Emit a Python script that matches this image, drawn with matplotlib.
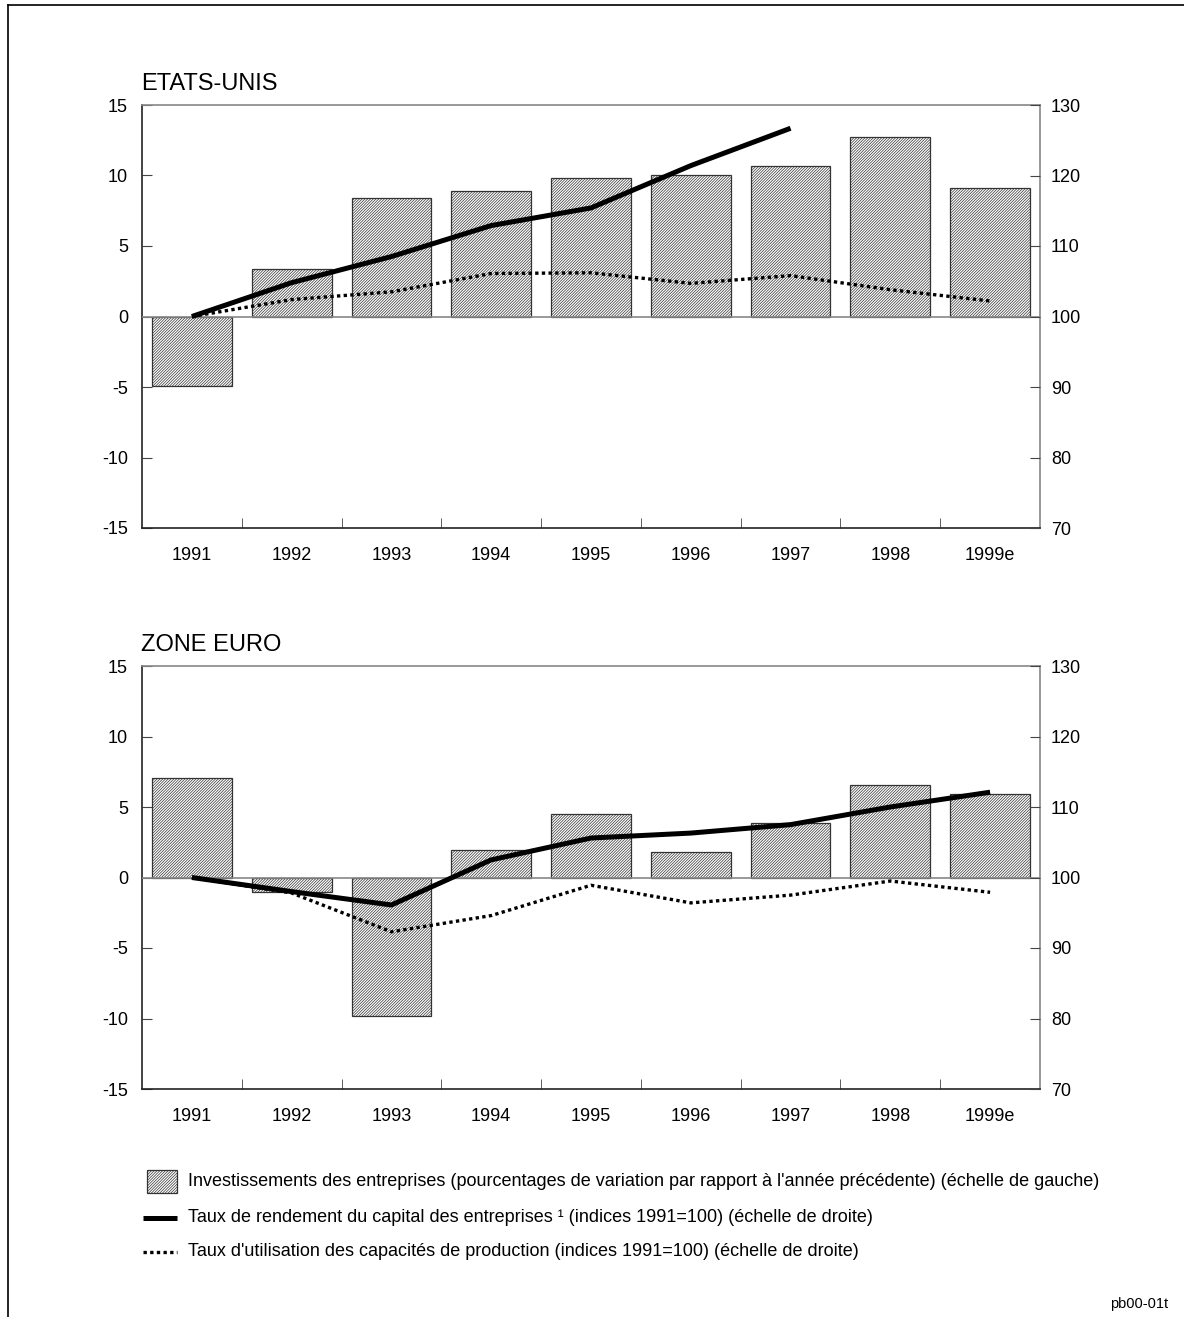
import matplotlib
matplotlib.use("Agg")
import matplotlib.pyplot as plt
from matplotlib.patches import Rectangle
from matplotlib.lines import Line2D

plt.rcParams['font.family'] = ['Liberation Sans', 'DejaVu Sans']
plt.rcParams['hatch.linewidth'] = 0.5
plt.rcParams['hatch.color'] = '#444444'

years = ['1991', '1992', '1993', '1994', '1995', '1996', '1997', '1998', '1999e']

us_invest = [-4.9, 3.35, 8.4, 8.9, 9.8, 10.0, 10.7, 12.7, 9.1]
us_rendement = [100.0, 104.8, 108.5, 112.9, 115.4, 121.4, 126.7]
us_utilisation = [100.0, 102.4, 103.5, 106.1, 106.2, 104.7, 105.8, 103.8, 102.2]

eu_invest = [7.05, -1.05, -9.8, 1.95, 4.5, 1.8, 3.85, 6.55, 5.9]
eu_rendement = [100.0, 98.0, 96.1, 102.5, 105.6, 106.3, 107.5, 110.0, 112.1]
eu_utilisation = [100.0, 97.8, 92.3, 94.6, 98.9, 96.4, 97.5, 99.5, 97.9]

titles = ['ETATS-UNIS', 'ZONE EURO']
left_ticks = [-15, -10, -5, 0, 5, 10, 15]
right_ticks = [70, 80, 90, 100, 110, 120, 130]

legend_labels = [
    "Investissements des entreprises (pourcentages de variation par rapport à l'année précédente) (échelle de gauche)",
    "Taux de rendement du capital des entreprises \u00b9 (indices 1991=100) (échelle de droite)",
    "Taux d'utilisation des capacités de production (indices 1991=100) (échelle de droite)",
]

HATCH = '////////////'
W, H = 1184, 1317
fig = plt.figure(figsize=(W / 100, H / 100), dpi=100)

def fx(px):
    return px / W

def fy(py):
    return 1 - py / H

panels = [
    (105, 528, us_invest, us_rendement, us_utilisation, titles[0]),
    (666, 1089, eu_invest, eu_rendement, eu_utilisation, titles[1]),
]

for top, bot, inv, rend, util, title in panels:
    ax = fig.add_axes([fx(142), fy(bot), fx(1040) - fx(142), fy(top) - fy(bot)])
    x = list(range(len(years)))
    ax.bar(x, inv, width=0.8, facecolor='white', edgecolor='#333333',
           linewidth=0.9, hatch=HATCH, zorder=2)
    ax.axhline(0, color='#888888', lw=1.2, zorder=3)
    ax.set_xlim(-0.5, len(years) - 0.5)
    ax.set_ylim(-15, 15)
    ax.set_yticks(left_ticks)
    ax.set_yticklabels([str(t) for t in left_ticks])
    ax.set_xticks(x)
    ax.set_xticklabels(years)
    ax.set_xticks([i + 0.5 for i in range(len(years) - 1)], minor=True)
    ax.tick_params(axis='x', which='major', length=0, pad=14, labelsize=13)
    ax.tick_params(axis='x', which='minor', length=7, direction='in', color='#444444')
    ax.tick_params(axis='y', length=7, direction='in', labelsize=13, pad=10, color='#444444')
    for s in ['top', 'right']:
        ax.spines[s].set_color('#888888')
    for s in ['left', 'bottom']:
        ax.spines[s].set_color('#222222')
    for s in ax.spines.values():
        s.set_linewidth(1.2)

    ax2 = ax.twinx()
    ax2.set_ylim(70, 130)
    ax2.set_yticks(right_ticks)
    ax2.set_yticklabels([str(t) for t in right_ticks])
    ax2.tick_params(axis='y', length=7, direction='in', labelsize=13, pad=8, color='#444444')
    for s in ax2.spines.values():
        s.set_visible(False)
    ax2.plot(list(range(len(rend))), rend, color='black', lw=3.6,
             solid_capstyle='butt', zorder=5)
    ax2.plot(list(range(len(util))), util, color='black', lw=2.4,
             linestyle=(0, (1, 1)), zorder=5)

    fig.text(fx(141), fy(top - 15), title, fontsize=17, ha='left', va='baseline')

# Legend
fig.add_artist(Rectangle((fx(147), fy(1193)), fx(177) - fx(147), fy(1170) - fy(1193),
                         transform=fig.transFigure, facecolor='white', edgecolor='#333333',
                         linewidth=0.9, hatch=HATCH))
fig.add_artist(Line2D([fx(143), fx(177)], [fy(1218), fy(1218)], transform=fig.transFigure,
                      color='black', lw=3.6, solid_capstyle='butt'))
fig.add_artist(Line2D([fx(143), fx(177)], [fy(1252), fy(1252)], transform=fig.transFigure,
                      color='black', lw=2.4, linestyle=(0, (1, 1))))
for yy, lab in zip([1181, 1218, 1252], legend_labels):
    fig.text(fx(188), fy(yy), lab, fontsize=13, ha='left', va='center')

fig.text(fx(1168), fy(1304), 'pb00-01t', fontsize=10.5, ha='right', va='center')

# outer frame lines
fig.add_artist(Line2D([fx(8), 1], [fy(5), fy(5)], transform=fig.transFigure, color='black', lw=1.2))
fig.add_artist(Line2D([fx(8), fx(8)], [fy(5), 0], transform=fig.transFigure, color='black', lw=1.2))

fig.savefig('out.png', dpi=100)
